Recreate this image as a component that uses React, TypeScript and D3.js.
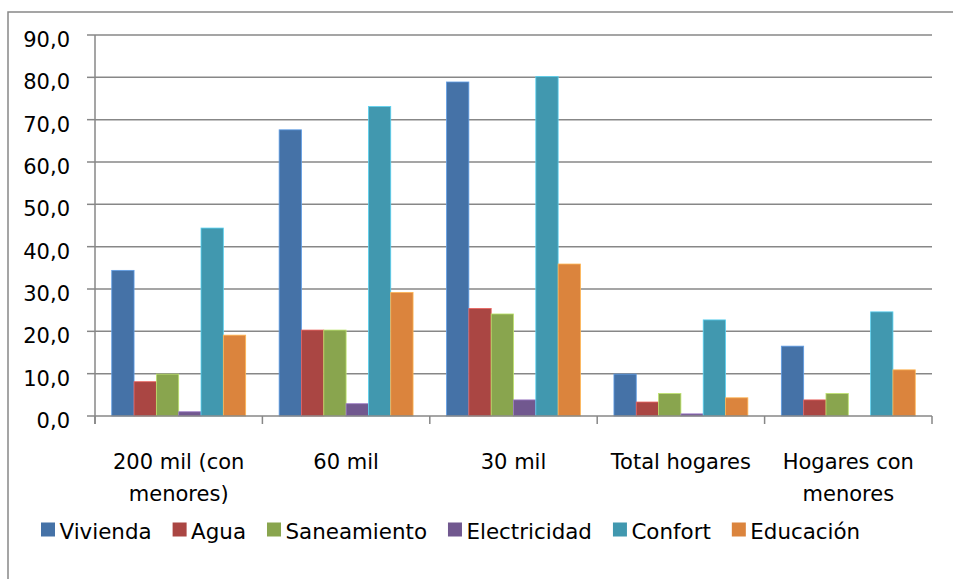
import React from "react";
import * as d3 from "d3";

const categories = [
  ["200 mil (con", "menores)"],
  ["60 mil"],
  ["30 mil"],
  ["Total hogares"],
  ["Hogares con", "menores"],
];
const seriesNames = ["Vivienda", "Agua", "Saneamiento", "Electricidad", "Confort", "Educación"];
const seriesColors = ["#4572A7", "#AA4643", "#89A54E", "#71588F", "#4198AF", "#DB843D"];
const vivienda = [34.4, 67.6, 78.9, 9.9, 16.5];
const agua = [8.1, 20.3, 25.4, 3.3, 3.8];
const saneamiento = [9.9, 20.3, 24.1, 5.3, 5.3];
const electricidad = [1.0, 2.9, 3.8, 0.5, 0.0];
const confort = [44.4, 73.1, 80.2, 22.7, 24.6];
const educacion = [19.1, 29.2, 35.9, 4.3, 10.9];
const seriesValues = [vivienda, agua, saneamiento, electricidad, confort, educacion];
const yTicks = [0, 10, 20, 30, 40, 50, 60, 70, 80, 90];

const W = 953;
const H = 579;
const FONT = "'DejaVu Sans', sans-serif";
const FS = 21;
const LFS = 21.4;

function measure(text: string, size: number): number {
  const c = document.createElement("canvas").getContext("2d");
  if (!c) return text.length * size * 0.6;
  c.font = `${size}px 'DejaVu Sans'`;
  return c.measureText(text).width;
}

export default function App() {
  const left = 95, right = 932, top = 35, bottom = 416;
  const y = d3.scaleLinear().domain([0, 90]).range([bottom, top]);
  const x0 = d3.scaleBand<number>().domain(d3.range(categories.length)).range([left, right]).paddingInner(0).paddingOuter(0);
  const x1 = d3.scaleBand<number>().domain(d3.range(seriesNames.length)).range([0, x0.bandwidth()]).paddingInner(0).paddingOuter(0.75);
  const fmt = (v: number) => d3.format(".1f")(v).replace(".", ",");
  const grid = "#878787";

  // legend layout
  let lx = 41;
  const legend = seriesNames.map((n, i) => {
    const item = { x: lx, name: n, color: seriesColors[i] };
    lx += 14 + 4.5 + measure(n, LFS) + 21;
    return item;
  });

  return (
    <svg width={W} height={H} style={{ position: "absolute", left: 0, top: 0, background: "#fff" }} fontFamily={FONT}>
      <rect x={0} y={0} width={W} height={H} fill="#fff" />
      <rect x={8} y={12} width={W + 20} height={H + 20} fill="none" stroke="#888" strokeWidth={1.5} />
      {yTicks.map((t) => (
        <g key={t}>
          {t > 0 && <line x1={left} x2={right} y1={y(t)} y2={y(t)} stroke={grid} strokeWidth={1.5} />}
          <line x1={left - 8} x2={left} y1={y(t)} y2={y(t)} stroke={grid} strokeWidth={1.5} />
          <text x={70} y={y(t) + 12} textAnchor="end" fontSize={FS} fill="#000">{fmt(t)}</text>
        </g>
      ))}
      {categories.map((c, ci) => (
        <g key={ci}>
          {seriesValues.map((vals, si) => {
            const v = vals[ci];
            const bx = (x0(ci) as number) + (x1(si) as number);
            const by = y(v);
            const col = seriesColors[si];
            return (
              <rect key={si} x={bx} y={by} width={x1.bandwidth()} height={Math.max(0, bottom - by)}
                fill={col} stroke={d3.color(col)!.brighter(0.9).formatHex()} strokeWidth={v > 0 ? 0.8 : 0} />
            );
          })}
        </g>
      ))}
      <line x1={left} x2={left} y1={top} y2={bottom + 8} stroke={grid} strokeWidth={1.5} />
      <line x1={left} x2={right} y1={bottom} y2={bottom} stroke={grid} strokeWidth={1.5} />
      {d3.range(categories.length + 1).map((i) => {
        const tx = left + i * x0.step();
        return <line key={i} x1={tx} x2={tx} y1={bottom} y2={bottom + 8} stroke={grid} strokeWidth={1.5} />;
      })}
      {categories.map((lines, ci) => (
        <text key={ci} x={(x0(ci) as number) + x0.bandwidth() / 2} textAnchor="middle" fontSize={FS} fill="#000">
          {lines.map((l, li) => (
            <tspan key={li} x={(x0(ci) as number) + x0.bandwidth() / 2} y={469 + li * 32}>{l}</tspan>
          ))}
        </text>
      ))}
      {legend.map((it) => (
        <g key={it.name}>
          <rect x={it.x} y={522.5} width={14} height={14} fill={it.color} />
          <text x={it.x + 14 + 4.5} y={539} fontSize={LFS} fill="#000">{it.name}</text>
        </g>
      ))}
    </svg>
  );
}
